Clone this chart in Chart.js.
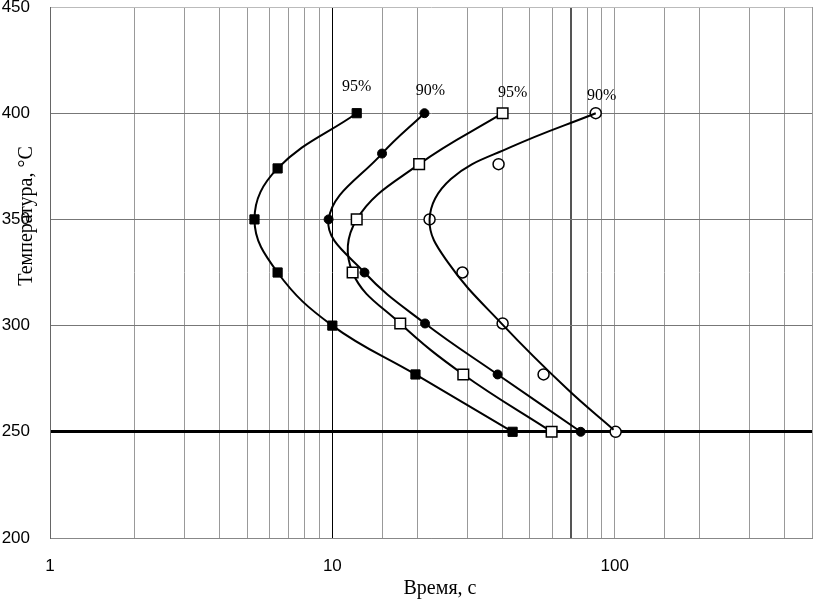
<!DOCTYPE html>
<html>
<head>
<meta charset="utf-8">
<style>
  body { margin: 0; background: #fff; }
  #wrap { width: 814px; height: 600px; }
</style>
<script src="https://cdn.jsdelivr.net/npm/chart.js@4.4.0/dist/chart.umd.min.js"></script>
</head>
<body>
<div id="wrap"><canvas id="chart" width="814" height="600"></canvas></div>
<script>
// values
const timeLabels = [1, 10, 100];
const tempRange = [200, 450];

const s1Time = [12.2, 6.4, 5.3, 6.4, 10.0, 19.7, 43.5];
const s1Temp = [400, 374, 350, 325, 300, 277, 250];
const s2Time = [21.2, 15.0, 9.7, 13.0, 21.3, 38.5, 75.8];
const s2Temp = [400, 381, 350, 325, 301, 277, 250];
const s3Time = [40.1, 20.3, 12.2, 11.8, 17.4, 29.1, 59.8];
const s3Temp = [400, 376, 350, 325, 301, 277, 250];
const s4Time = [85.7, 38.8, 22.1, 28.9, 40.1, 56.0, 100.8];
const s4Temp = [400, 376, 350, 325, 301, 277, 250];
// fitted curve of the open circles does not pass through all of them
const s4CurveTime = [85.7, 42.8, 26.3, 22.1, 25.6, 40.4, 68.1, 99.1];
const s4CurveTemp = [400, 384, 369, 350, 330, 300, 270, 251];

const curveLabels = ['95%', '90%', '95%', '90%'];

function pts(xs, ys) {
  return xs.map((x, i) => ({ x: x, y: ys[i] }));
}

const serif = '"Liberation Serif", "Times New Roman", serif';
const sans = '"Liberation Sans", Arial, sans-serif';

const textPlugin = {
  id: 'texts',
  afterDraw(chart) {
    const ctx = chart.ctx;
    const xs = chart.scales.x, ys = chart.scales.y;
    ctx.save();
    ctx.fillStyle = '#000';
    // percent labels above the top point of each curve
    const tops = [[s1Time[0], s1Temp[0]], [s2Time[0], s2Temp[0]], [s3Time[0], s3Temp[0]], [s4Time[0], s4Temp[0]]];
    const offs = [[0, -26], [6, -22], [10, -20], [6, -17]];
    ctx.font = '16px ' + serif;
    ctx.textAlign = 'center';
    ctx.textBaseline = 'middle';
    tops.forEach((p, i) => {
      ctx.fillText(curveLabels[i], xs.getPixelForValue(p[0]) + offs[i][0], ys.getPixelForValue(p[1]) + offs[i][1]);
    });
    // axis titles
    ctx.font = '20px ' + serif;
    ctx.fillText('Время, с', 440, 589);
    ctx.translate(27, 216);
    ctx.rotate(-Math.PI / 2);
    ctx.fillText('Температура, °C', 0, 0);
    ctx.restore();
  }
};

function noPad(s) {
  s.paddingTop = 0;
  s.paddingBottom = 0;
  s.paddingLeft = 0;
  s.paddingRight = 0;
}

const curveStyle = {
  showLine: true,
  borderColor: '#000',
  borderWidth: 2,
  tension: 0.4,
  fill: false
};

new Chart(document.getElementById('chart').getContext('2d'), {
  type: 'scatter',
  data: {
    datasets: [
      Object.assign({ data: pts(s1Time, s1Temp), pointStyle: 'rect', pointRadius: 6.5,
        pointBackgroundColor: '#000', pointBorderColor: '#000', pointBorderWidth: 1 }, curveStyle),
      Object.assign({ data: pts(s2Time, s2Temp), pointStyle: 'circle', pointRadius: 4.5,
        pointBackgroundColor: '#000', pointBorderColor: '#000', pointBorderWidth: 1 }, curveStyle),
      Object.assign({ data: pts(s3Time, s3Temp), pointStyle: 'rect', pointRadius: 7.5,
        pointBackgroundColor: '#fff', pointBorderColor: '#000', pointBorderWidth: 1.5 }, curveStyle),
      Object.assign({ data: pts(s4CurveTime, s4CurveTemp), pointRadius: 0 }, curveStyle),
      { data: pts(s4Time, s4Temp), showLine: false, pointStyle: 'circle', pointRadius: 5.5,
        pointBackgroundColor: '#fff', pointBorderColor: '#000', pointBorderWidth: 1.5 }
    ]
  },
  options: {
    responsive: false,
    animation: false,
    layout: { autoPadding: false, padding: { top: 7, right: 2, left: 0, bottom: 0 } },
    plugins: { legend: { display: false }, tooltip: { enabled: false } },
    scales: {
      x: {
        type: 'logarithmic',
        min: 1,
        max: 500,
        afterFit(s) { s.height = 62; noPad(s); },
        border: { color: '#888', width: 1 },
        grid: {
          drawTicks: false,
          color: c => c.tick.value === 10 ? '#000' : (c.tick.value === 70 ? '#555' : '#999'),
          lineWidth: c => c.tick.value === 70 ? 2 : 1
        },
        ticks: {
          autoSkip: false,
          maxRotation: 0,
          padding: 18,
          color: '#000',
          font: { family: sans, size: 17 },
          callback: v => timeLabels.includes(v) ? String(v) : ''
        }
      },
      y: {
        min: tempRange[0],
        max: tempRange[1],
        afterFit(s) { s.width = 50; noPad(s); },
        border: { color: '#666', width: 1 },
        grid: {
          drawTicks: false,
          color: c => c.tick.value === 250 ? '#000' : (c.tick.value === 450 ? '#bbb' : '#777'),
          lineWidth: c => c.tick.value === 250 ? 3 : 1
        },
        ticks: {
          stepSize: 50,
          padding: 20,
          color: '#000',
          font: { family: sans, size: 17 }
        }
      }
    }
  },
  plugins: [textPlugin]
});
</script>
</body>
</html>
